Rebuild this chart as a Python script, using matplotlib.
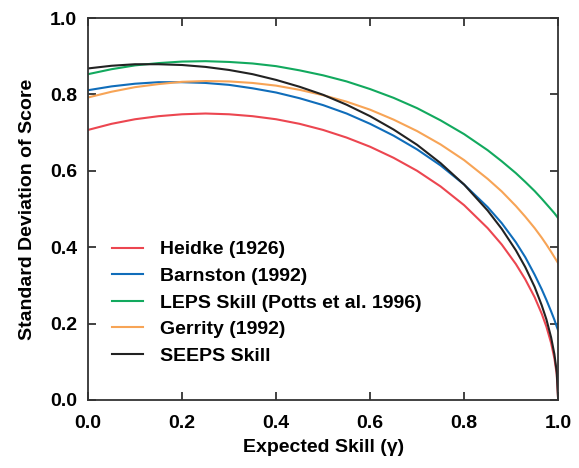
import matplotlib
matplotlib.use("Agg")
import matplotlib.pyplot as plt

plt.rcParams["font.family"] = ["Liberation Sans", "DejaVu Sans"]
plt.rcParams["font.weight"] = "bold"

# expected skill (gamma)
gamma = [0, 0.05, 0.1, 0.15, 0.2, 0.25, 0.3, 0.35, 0.4, 0.45, 0.5, 0.55, 0.6, 0.65,
         0.7, 0.75, 0.8, 0.85, 0.88, 0.91, 0.93, 0.95, 0.965, 0.975, 0.985, 0.992, 0.997, 1.0]

# standard deviation of score
heidke = [0.707, 0.723, 0.735, 0.743, 0.748, 0.750, 0.748, 0.743, 0.735, 0.723, 0.707, 0.687,
          0.663, 0.634, 0.600, 0.559, 0.510, 0.450, 0.407, 0.356, 0.316, 0.269, 0.226, 0.192,
          0.149, 0.109, 0.067, 0.0]
barnston = [0.811, 0.821, 0.828, 0.832, 0.832, 0.830, 0.825, 0.816, 0.805, 0.790, 0.772, 0.750,
            0.723, 0.692, 0.656, 0.614, 0.564, 0.505, 0.463, 0.413, 0.374, 0.328, 0.290, 0.262,
            0.232, 0.210, 0.192, 0.182]
leps = [0.853, 0.866, 0.876, 0.882, 0.886, 0.887, 0.885, 0.881, 0.874, 0.863, 0.850, 0.834,
        0.814, 0.791, 0.764, 0.732, 0.696, 0.654, 0.625, 0.594, 0.571, 0.547, 0.527, 0.513,
        0.499, 0.489, 0.481, 0.476]
gerrity = [0.792, 0.807, 0.819, 0.827, 0.833, 0.835, 0.834, 0.830, 0.823, 0.812, 0.798, 0.781,
           0.760, 0.734, 0.704, 0.669, 0.628, 0.579, 0.546, 0.508, 0.480, 0.450, 0.425, 0.407,
           0.388, 0.374, 0.364, 0.358]
seeps = [0.868, 0.875, 0.879, 0.879, 0.877, 0.872, 0.864, 0.853, 0.838, 0.820, 0.799, 0.773,
         0.743, 0.708, 0.668, 0.620, 0.564, 0.496, 0.448, 0.392, 0.348, 0.296, 0.248, 0.211,
         0.164, 0.120, 0.073, 0.0]

series = [
    ("Heidke (1926)", heidke, "#ec4650"),
    ("Barnston (1992)", barnston, "#106dba"),
    ("LEPS Skill (Potts et al. 1996)", leps, "#12a95e"),
    ("Gerrity (1992)", gerrity, "#f7a456"),
    ("SEEPS Skill", seeps, "#222222"),
]

fig = plt.figure(figsize=(5.79, 4.68), dpi=100)
ax = fig.add_axes([0.152, 0.1453, 0.812, 0.8162])

for label, vals, color in series:
    ax.plot(gamma, vals, color=color, linewidth=1.5, label=label)

ax.set_xlim(0, 1)
ax.set_ylim(0, 1)
ticks = [0, 0.2, 0.4, 0.6, 0.8, 1.0]
ax.set_xticks(ticks)
ax.set_yticks(ticks)
ax.set_xticklabels([f"{t:.1f}" for t in ticks])
ax.set_yticklabels([f"{t:.1f}" for t in ticks])
ax.tick_params(direction="in", top=True, right=True, length=6, width=1.3,
               labelsize=14, color="#333333")
ax.tick_params(axis="x", pad=11)
ax.tick_params(axis="y", pad=8)
for s in ax.spines.values():
    s.set_linewidth(1.3)
    s.set_color("#333333")

ax.set_xlabel("Expected Skill (γ)", fontsize=14, fontweight="bold", labelpad=5)
ax.set_ylabel("Standard Deviation of Score", fontsize=14, fontweight="bold", labelpad=10)

ax.legend(loc="lower left", bbox_to_anchor=(0.035, 0.072), frameon=False, fontsize=14,
          handlelength=1.6, handletextpad=0.85, labelspacing=0.46, borderaxespad=0)

fig.savefig("out.png", dpi=100)
